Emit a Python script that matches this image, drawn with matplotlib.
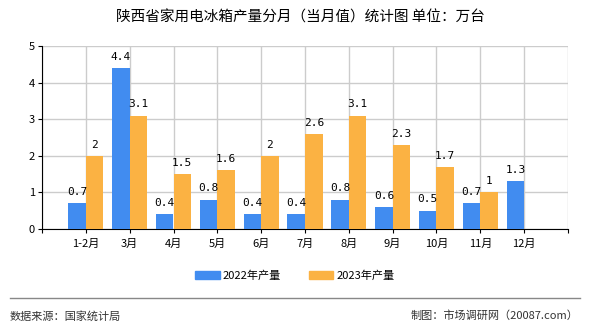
import numpy as np
import matplotlib
matplotlib.use("Agg")
import matplotlib.pyplot as plt
from matplotlib.patches import Patch

plt.rcParams['font.family'] = ['Noto Sans CJK SC', 'DejaVu Sans']

# data
months = ["1-2月", "3月", "4月", "5月", "6月", "7月", "8月", "9月", "10月", "11月", "12月"]
prod_2022 = [0.7, 4.4, 0.4, 0.8, 0.4, 0.4, 0.8, 0.6, 0.5, 0.7, 1.3]
prod_2023 = [2, 3.1, 1.5, 1.6, 2, 2.6, 3.1, 2.3, 1.7, 1, None]
series_names = ["2022年产量", "2023年产量"]
title = "陕西省家用电冰箱产量分月（当月值）统计图 单位：万台"

c_blue = "#418cf0"
c_orange = "#fbb243"

fig = plt.figure(figsize=(5.9, 3.3), dpi=100)
ax = fig.add_axes([42 / 590, 1 - 229 / 330, (568 - 42) / 590, (229 - 46) / 330])

x = np.arange(len(months))
w = 0.4
v22 = np.array(prod_2022, dtype=float)
v23 = np.array([np.nan if v is None else v for v in prod_2023])

ax.bar(x - w / 2, v22, width=w, color=c_blue, zorder=3)
ax.bar(x + w / 2, v23, width=w, color=c_orange, zorder=3)

# value labels above bars
for xi, v in zip(x, v22):
    ax.annotate(f"{v:g}", (xi - w / 2, v), xytext=(0, 4.5), textcoords="offset points",
                ha="center", va="bottom", fontsize=8, family="DejaVu Sans Mono")
for xi, v in zip(x, v23):
    if not np.isnan(v):
        ax.annotate(f"{v:g}", (xi + w / 2, v), xytext=(0, 4.5), textcoords="offset points",
                    ha="center", va="bottom", fontsize=8, family="DejaVu Sans Mono")

ax.set_xlim(-1, len(months))
ax.set_ylim(0, 5)
ax.set_yticks(range(0, 6))
ax.set_xticks(np.arange(-1, len(months) + 1))
ax.set_xticklabels([""] + months + [""])
ax.tick_params(axis="both", labelsize=8, length=3, color="black", pad=2)
ax.tick_params(axis="x", pad=4)

ax.grid(True, color="#cccccc", linewidth=1, zorder=0)
ax.set_axisbelow(True)
for s in ["top", "right"]:
    ax.spines[s].set_visible(False)
ax.spines["left"].set_color("black")
ax.spines["bottom"].set_color("black")

fig.text(0.51, 1 - 18 / 330, title, ha="center", va="center", fontsize=10.5)

handles = [Patch(color=c_blue, label=series_names[0]), Patch(color=c_orange, label=series_names[1])]
fig.legend(handles=handles, loc="center", bbox_to_anchor=(0.5, 1 - 276 / 330), ncol=2,
           frameon=False, fontsize=8, handlelength=2.2, handleheight=0.7, columnspacing=2.5,
           handletextpad=0.3)

fig.add_artist(plt.Line2D([10 / 590, 580 / 590], [1 - 298 / 330] * 2, color="#888888", linewidth=1))
fig.text(10 / 590, 1 - 316 / 330, "数据来源：国家统计局", ha="left", va="center", fontsize=8, color="#333333")
fig.text(578 / 590, 1 - 316 / 330, "制图：市场调研网（20087.com）", ha="right", va="center", fontsize=8, color="#333333")

fig.savefig("out.png", dpi=100)
